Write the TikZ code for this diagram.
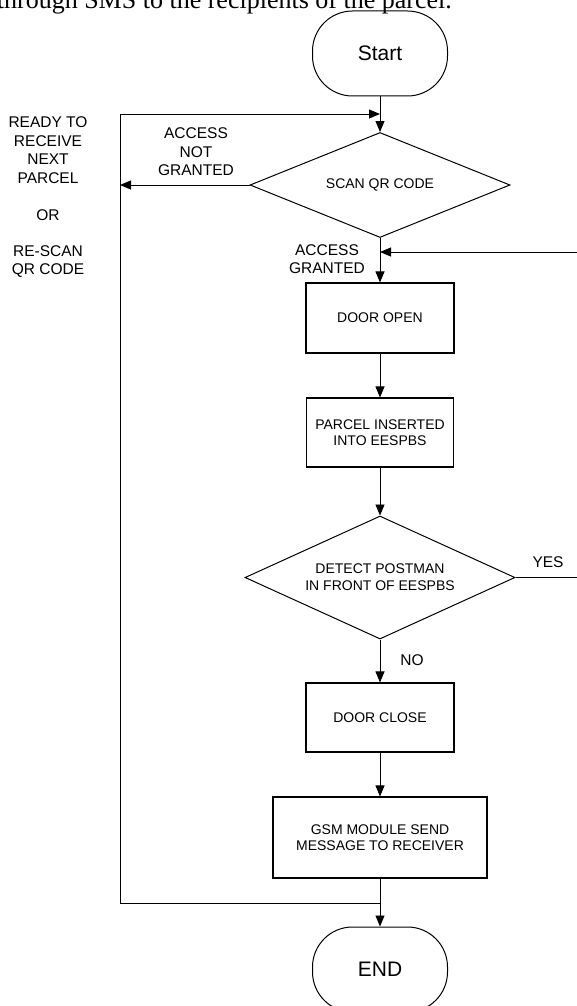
\documentclass[tikz,border=0pt]{standalone}
\usepackage{fontspec}
\setmainfont{Liberation Sans}
\newfontfamily\bodyserif{Liberation Serif}
\usetikzlibrary{shapes.geometric,arrows.meta}
\begin{document}
\begin{tikzpicture}[x=1pt,y=-1pt,
  conn/.style={line width=0.9pt},
  arr/.style={conn,-{Triangle[length=11pt,width=9pt]}},
  proc/.style={draw,line width=1.1pt,inner sep=0pt,align=center,font=\fontsize{14}{15.5}\selectfont},
  term/.style={draw,line width=1pt,rounded corners=40pt,minimum width=135pt,minimum height=85pt,inner sep=0pt,font=\fontsize{21}{24}\selectfont},
  dec/.style={draw,diamond,shape aspect=2.5,line width=1pt,inner sep=0pt,align=center,font=\fontsize{14}{17}\selectfont},
  lab/.style={inner sep=0pt,align=center,font=\fontsize{15.5}{18.5}\selectfont}]
\clip (0,0) rectangle (577,1006);
% intro text cut at top
\node[anchor=base east,inner sep=0pt,font=\bodyserif\fontsize{26}{30}\selectfont] (intro) at (452,8.5) {through SMS to the recipients of the parcel.};
% nodes
\node[term] (start) at (380,53.5) {Start};
\node[dec,minimum width=260pt,minimum height=105pt] (scan) at (380,185) {SCAN QR CODE};
\node[proc,minimum width=148pt,minimum height=70pt] (open) at (380,318) {DOOR OPEN};
\node[proc,minimum width=147pt,minimum height=69pt] (ins) at (380,432.5) {PARCEL INSERTED\\INTO EESPBS};
\node[dec,minimum width=270pt,minimum height=123pt] (det) at (380,577.5) {DETECT POSTMAN\\IN FRONT OF EESPBS};
\node[proc,minimum width=148pt,minimum height=69pt] (close) at (380,717.5) {DOOR CLOSE};
\node[proc,minimum width=214pt,minimum height=81pt] (gsm) at (380,837.5) {GSM MODULE SEND\\MESSAGE TO RECEIVER};
\node[term] (end) at (380,969.5) {END};
% labels
\node[lab] (notg) at (196,152) {ACCESS\\NOT\\GRANTED};
\node[lab] (grant) at (327,259) {ACCESS\\GRANTED};
\node[lab] (ready) at (48,197.5) {READY TO\\RECEIVE\\NEXT\\PARCEL\\[19pt]OR\\[17pt]RE-SCAN\\QR CODE};
\node[lab] (yes) at (548,562) {YES};
\node[lab] (no) at (412,660) {NO};
% coordinates
\coordinate (L1) at (120,114);
\coordinate (J1) at (380,114);
\coordinate (L3) at (120,903);
\coordinate (J3) at (380,903);
\coordinate (J2) at (380,252);
\coordinate (R1) at (620,577.5);
% connectors
\draw[arr] (start) -- (scan);
\draw[arr] (L1) -- (J1);
\draw[arr] (scan.west) -- (scan.west -| L1);
\draw[conn] (L1) -- (L3) -- (J3);
\draw[arr] (scan) -- (open);
\draw[arr] (open) -- (ins);
\draw[arr] (ins) -- (det);
\draw[arr] (det) -- (close);
\draw[arr] (close) -- (gsm);
\draw[arr] (gsm) -- (end);
\draw[arr] (det.east) -- (R1) |- (J2);
\end{tikzpicture}
\end{document}
